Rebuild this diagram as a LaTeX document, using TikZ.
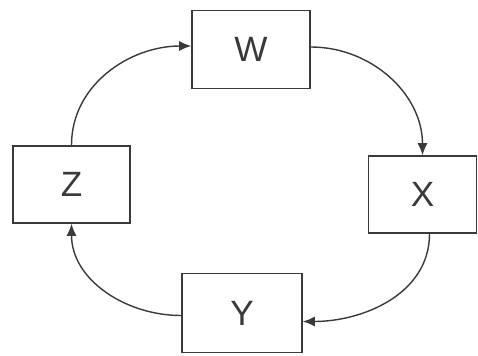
\documentclass[tikz,border=0pt]{standalone}
\usepackage{fontspec}
\setmainfont{Liberation Sans}
\usepackage{xcolor}
\usetikzlibrary{arrows.meta}
\definecolor{ink}{HTML}{3A3A3A}
\tikzset{
  stagebox/.style={
    draw=ink,
    line width=0.9pt,
    fill=white,
    align=center,
    text=ink,
    font=\fontsize{20}{24}\selectfont,
    minimum width=2.36cm,
    minimum height=1.56cm
  },
  cycleedge/.style={line width=0.8pt, draw=ink, -{Latex[length=2.4mm,width=2.0mm]}}
}
\begin{document}
\begin{tikzpicture}[x=1cm,y=1cm]
\path[use as bounding box] (0,0) rectangle (9.56,7.1);

\node[stagebox] (w) at (5.02,6.11) {W};
\node[stagebox, minimum width=2.16cm, minimum height=1.54cm] (x) at (8.45,3.21) {X};
\node[stagebox, minimum width=2.40cm, minimum height=1.58cm] (y) at (4.84,0.84) {Y};
\node[stagebox, minimum width=2.34cm, minimum height=1.54cm] (z) at (1.43,3.41) {Z};

\draw[cycleedge] (z.north) to[out=90,in=180] ([yshift=0.07cm]w.west);
\draw[cycleedge] ([yshift=0.05cm]w.east) to[out=0,in=90] (x.north);
\draw[cycleedge] ([xshift=0.14cm]x.south) to[out=-90,in=0] ([yshift=-0.17cm]y.east);
\draw[cycleedge] ([yshift=-0.05cm]y.west) to[out=180,in=-90] (z.south);

\end{tikzpicture}
\end{document}
